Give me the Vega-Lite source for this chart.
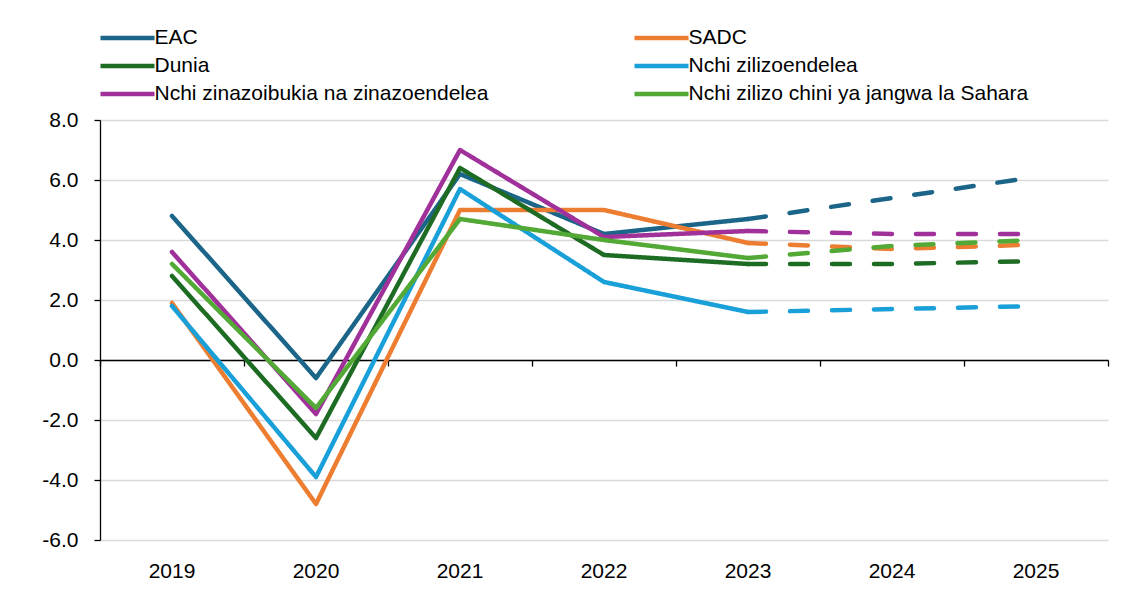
{
  "$schema": "https://vega.github.io/schema/vega-lite/v6.json",
  "width": 1008,
  "height": 420,
  "autosize": {"type": "none"},
  "padding": {"left": 100, "top": 120, "right": 26, "bottom": 55},
  "background": "white",
  "config": {"view": {"stroke": null}, "font": "Liberation Sans"},
  "data": {"values": [
    {"series": "EAC", "year": "2019", "value": 4.8, "part": "actual"},
    {"series": "EAC", "year": "2020", "value": -0.6, "part": "actual"},
    {"series": "EAC", "year": "2021", "value": 6.2, "part": "actual"},
    {"series": "EAC", "year": "2022", "value": 4.2, "part": "actual"},
    {"series": "EAC", "year": "2023", "value": 4.7, "part": "actual"},
    {"series": "EAC", "year": "2023", "value": 4.7, "part": "projection"},
    {"series": "EAC", "year": "2024", "value": 5.4, "part": "projection"},
    {"series": "EAC", "year": "2025", "value": 6.1, "part": "projection"},
    {"series": "SADC", "year": "2019", "value": 1.9, "part": "actual"},
    {"series": "SADC", "year": "2020", "value": -4.8, "part": "actual"},
    {"series": "SADC", "year": "2021", "value": 5.0, "part": "actual"},
    {"series": "SADC", "year": "2022", "value": 5.0, "part": "actual"},
    {"series": "SADC", "year": "2023", "value": 3.9, "part": "actual"},
    {"series": "SADC", "year": "2023", "value": 3.9, "part": "projection"},
    {"series": "SADC", "year": "2024", "value": 3.7, "part": "projection"},
    {"series": "SADC", "year": "2025", "value": 3.85, "part": "projection"},
    {"series": "Dunia", "year": "2019", "value": 2.8, "part": "actual"},
    {"series": "Dunia", "year": "2020", "value": -2.6, "part": "actual"},
    {"series": "Dunia", "year": "2021", "value": 6.4, "part": "actual"},
    {"series": "Dunia", "year": "2022", "value": 3.5, "part": "actual"},
    {"series": "Dunia", "year": "2023", "value": 3.2, "part": "actual"},
    {"series": "Dunia", "year": "2023", "value": 3.2, "part": "projection"},
    {"series": "Dunia", "year": "2024", "value": 3.2, "part": "projection"},
    {"series": "Dunia", "year": "2025", "value": 3.3, "part": "projection"},
    {"series": "Nchi zilizoendelea", "year": "2019", "value": 1.8, "part": "actual"},
    {"series": "Nchi zilizoendelea", "year": "2020", "value": -3.9, "part": "actual"},
    {"series": "Nchi zilizoendelea", "year": "2021", "value": 5.7, "part": "actual"},
    {"series": "Nchi zilizoendelea", "year": "2022", "value": 2.6, "part": "actual"},
    {"series": "Nchi zilizoendelea", "year": "2023", "value": 1.6, "part": "actual"},
    {"series": "Nchi zilizoendelea", "year": "2023", "value": 1.6, "part": "projection"},
    {"series": "Nchi zilizoendelea", "year": "2024", "value": 1.7, "part": "projection"},
    {"series": "Nchi zilizoendelea", "year": "2025", "value": 1.8, "part": "projection"},
    {"series": "Nchi zinazoibukia na zinazoendelea", "year": "2019", "value": 3.6, "part": "actual"},
    {"series": "Nchi zinazoibukia na zinazoendelea", "year": "2020", "value": -1.8, "part": "actual"},
    {"series": "Nchi zinazoibukia na zinazoendelea", "year": "2021", "value": 7.0, "part": "actual"},
    {"series": "Nchi zinazoibukia na zinazoendelea", "year": "2022", "value": 4.1, "part": "actual"},
    {"series": "Nchi zinazoibukia na zinazoendelea", "year": "2023", "value": 4.3, "part": "actual"},
    {"series": "Nchi zinazoibukia na zinazoendelea", "year": "2023", "value": 4.3, "part": "projection"},
    {"series": "Nchi zinazoibukia na zinazoendelea", "year": "2024", "value": 4.2, "part": "projection"},
    {"series": "Nchi zinazoibukia na zinazoendelea", "year": "2025", "value": 4.2, "part": "projection"},
    {"series": "Nchi zilizo chini ya jangwa la Sahara", "year": "2019", "value": 3.2, "part": "actual"},
    {"series": "Nchi zilizo chini ya jangwa la Sahara", "year": "2020", "value": -1.6, "part": "actual"},
    {"series": "Nchi zilizo chini ya jangwa la Sahara", "year": "2021", "value": 4.7, "part": "actual"},
    {"series": "Nchi zilizo chini ya jangwa la Sahara", "year": "2022", "value": 4.0, "part": "actual"},
    {"series": "Nchi zilizo chini ya jangwa la Sahara", "year": "2023", "value": 3.4, "part": "actual"},
    {"series": "Nchi zilizo chini ya jangwa la Sahara", "year": "2023", "value": 3.4, "part": "projection"},
    {"series": "Nchi zilizo chini ya jangwa la Sahara", "year": "2024", "value": 3.8, "part": "projection"},
    {"series": "Nchi zilizo chini ya jangwa la Sahara", "year": "2025", "value": 4.0, "part": "projection"}
  ]},
  "layer": [
    {
      "mark": {"type": "point", "opacity": 0},
      "encoding": {
        "x": {"field": "year", "type": "ordinal", "axis": {"orient": "bottom", "offset": -180, "domain": true, "domainColor": "black", "domainWidth": 1.3, "ticks": true, "tickBand": "extent", "tickColor": "black", "tickWidth": 1.3, "tickSize": 6, "labels": false, "grid": false, "title": null}},
        "y": {"field": "value", "type": "quantitative", "scale": {"domain": [-6, 8]}}
      }
    },
    {
      "mark": {"type": "line", "strokeWidth": 4.5, "strokeCap": "round", "strokeJoin": "round"},
      "encoding": {
        "x": {"field": "year", "type": "ordinal", "axis": {"orient": "bottom", "domain": false, "ticks": false, "labelPadding": 20, "labelFontSize": 21, "labelColor": "black", "labelAngle": 0, "grid": false, "title": null}},
        "y": {"field": "value", "type": "quantitative", "scale": {"domain": [-6, 8]}, "axis": {"values": [-6, -4, -2, 0, 2, 4, 6, 8], "labelExpr": "(datum.value < 0 ? '-' : '') + format(abs(datum.value), '.1f')", "domain": true, "domainColor": "black", "domainWidth": 1.3, "ticks": true, "tickColor": "black", "tickSize": 6, "tickWidth": 1.3, "labelPadding": 16, "labelFontSize": 21, "labelColor": "black", "grid": true, "gridColor": "#d9d9d9", "gridWidth": 1.5, "title": null}},
        "color": {"field": "series", "type": "nominal", "scale": {"domain": ["EAC", "SADC", "Dunia", "Nchi zilizoendelea", "Nchi zinazoibukia na zinazoendelea", "Nchi zilizo chini ya jangwa la Sahara"], "range": ["#1b6589", "#ed7d31", "#1e6b24", "#1aa0d9", "#a0309a", "#52a935"]},
          "legend": {"title": null, "orient": "none", "direction": "horizontal", "legendX": 11.5, "legendY": -98, "columns": 2, "columnPadding": 137, "rowPadding": 2, "symbolType": "M-2,0H2", "symbolSize": 729, "symbolStrokeWidth": 4.5, "labelFontSize": 21, "labelColor": "black", "labelOffset": 11, "labelLimit": 600, "padding": 0}},
        "strokeDash": {"field": "part", "type": "nominal", "scale": {"domain": ["actual", "projection"], "range": [[1, 0], [18, 24]]}, "legend": null}
      }
    }
  ],
  "resolve": {"axis": {"x": "independent"}}
}
